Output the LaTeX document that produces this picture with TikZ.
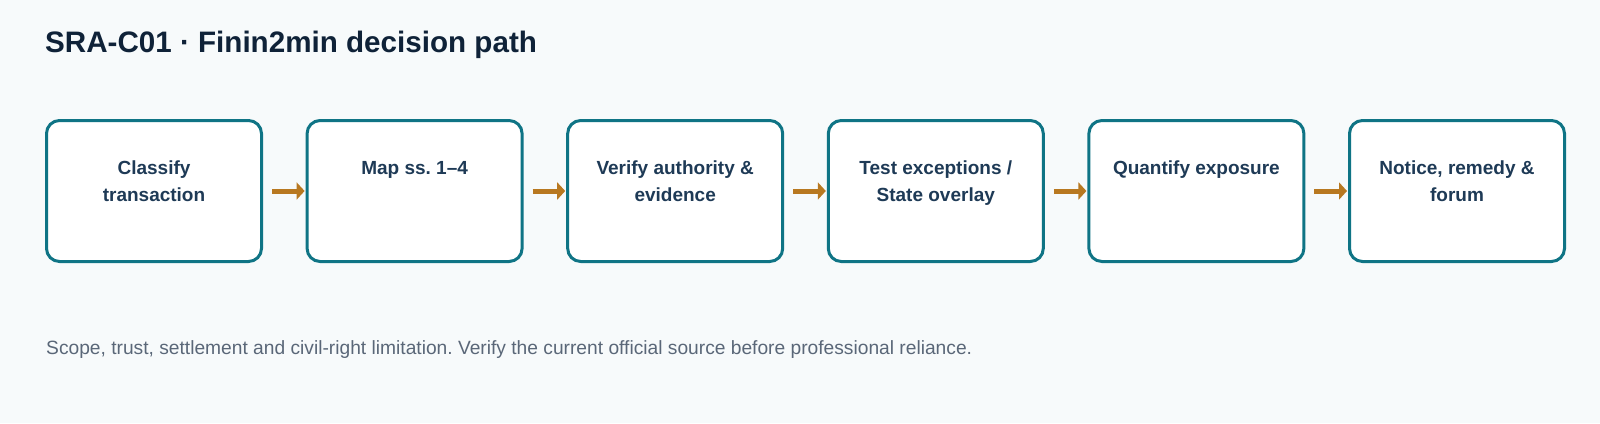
\documentclass[tikz,border=0pt]{standalone}
\usepackage{fontspec}
\setmainfont{Liberation Sans}
\usetikzlibrary{arrows.meta}
\frenchspacing
\definecolor{pagebg}{RGB}{247,250,251}
\definecolor{boxteal}{RGB}{15,116,133}
\definecolor{labelnavy}{RGB}{30,58,86}
\definecolor{titlenavy}{RGB}{15,34,56}
\definecolor{arrowochre}{RGB}{184,120,32}
\definecolor{notegray}{RGB}{90,103,120}
\tikzset{
  stagebox/.style={
    draw=boxteal,
    line width=3pt,
    fill=white,
    rounded corners=13pt,
    minimum width=215pt,
    minimum height=141pt,
  },
  stagelabel/.style={
    anchor=north,
    inner sep=0pt,
    align=center,
    text=labelnavy,
    font=\fontsize{19}{27}\selectfont\bfseries,
  },
  flowarrow/.style={
    ->,
    draw=arrowochre,
    line width=5pt,
    shorten >=1pt,
  }
}
\newcommand{\stage}[3]{%
  \node[stagebox] (#2) at (154+#1*260.6,191) {};
  \node[stagelabel] (#2-label) at (154+#1*260.6,161) {#3};
}

\begin{document}
\begin{tikzpicture}[x=1pt,y=-1pt,>={Triangle[length=8pt,width=17pt]}]

\fill[pagebg] (0,0) rectangle (1600,423);
\useasboundingbox (0,0) rectangle (1600,423);

\node[anchor=base west, inner sep=0pt, text=titlenavy,
  font=\fontsize{29.6}{36}\selectfont\bfseries] (title) at (45,52)
  {SRA-C01 · Finin2min decision path};

\stage{0}{classify}{Classify\\transaction}
\stage{1}{map}{Map ss. 1–4}
\stage{2}{verify}{Verify authority \&\\evidence}
\stage{3}{test}{Test exceptions /\\State overlay}
\stage{4}{quantify}{Quantify exposure}
\stage{5}{notice}{Notice, remedy \&\\forum}

\draw[flowarrow] ([xshift=9pt]classify.east) -- (map.west);
\draw[flowarrow] ([xshift=9pt]map.east) -- (verify.west);
\draw[flowarrow] ([xshift=9pt]verify.east) -- (test.west);
\draw[flowarrow] ([xshift=9pt]test.east) -- (quantify.west);
\draw[flowarrow] ([xshift=9pt]quantify.east) -- (notice.west);

\node[anchor=base west, inner sep=0pt, text=notegray,
  font=\fontsize{19.2}{22}\selectfont] (note) at (46,354)
  {Scope, trust, settlement and civil-right limitation. Verify the current official source before professional reliance.};

\end{tikzpicture}
\end{document}
